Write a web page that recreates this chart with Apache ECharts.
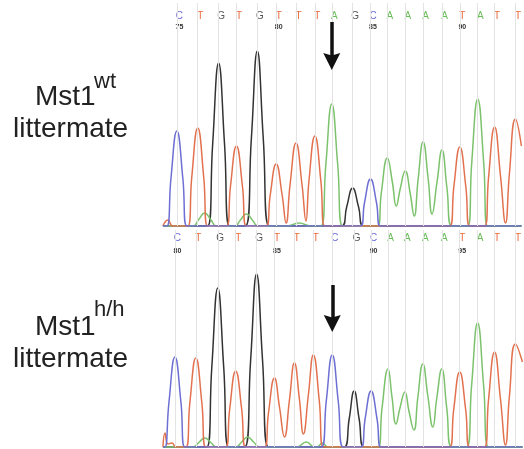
<!DOCTYPE html>
<html><head><meta charset="utf-8">
<script src="https://cdn.jsdelivr.net/npm/echarts@6/dist/echarts.min.js"></script>
<style>html,body{margin:0;padding:0;background:#fff}#c{width:524px;height:449px}</style>
</head><body><div id="c"></div>
<script>
// ---------- data (x = scan position, y = signal intensity) ----------
const topBases   = ['C','T','G','T','G','T','T','T','A','G','C','A','A','A','A','T','A','T','T'];
const topBasePos = [14,35,56,74,95,114,134,153,170,191,209,226,244,262,281,299,317,334,355];
const topNumIdx  = [0,5,10,15];
const topNumbers = ['75','80','85','90'];

const botBases   = ['C','T','G','T','G','T','T','T','C','G','C','A','A','A','A','T','A','T','T'];
const botBasePos = [12,33,55,73,94,112,132,151,170,192,209,226,243,261,280,298,316,333,354];
const botNumIdx  = [0,5,10,15];
const botNumbers = ['80','85','90','95'];

const mutationIdx = 8;

// trace channels, top (wild type)
const topC = [[0,0],[4,0],[8,475],[14,950],[20,475],[24,0],[199,0],[203,235],[209,470],[215,235],[219,0],[361,0]];
const topT = [[0,0],[5,60],[10,0],[25,0],[29,490],[35,980],[41,490],[45,0],[64,0],[68,400],[74,800],[80,400],[84,0],[104,0],[108,310],[114,620],[120,310],[124,30],[128,415],[134,830],[140,415],[144,50],[147,450],[153,900],[159,450],[163,0],[289,0],[293,395],[299,790],[305,395],[309,0],[324,0],[328,495],[334,990],[340,495],[345,30],[349,535],[355,1070],[361,800]];
const topG = [[0,0],[45,0],[50,815],[56,1630],[62,815],[67,0],[83,0],[89,875],[95,1750],[101,875],[107,0],[180,0],[185,190],[191,380],[197,190],[202,0],[361,0]];
const topA = [[0,0],[30,0],[36,65],[42,130],[48,65],[54,0],[72,0],[78,60],[84,120],[90,60],[96,0],[125,0],[137,30],[149,0],[159,0],[164,610],[170,1220],[176,610],[181,0],[216,0],[220,340],[226,680],[231,440],[235,200],[239,375],[244,550],[249,325],[253,100],[257,470],[262,840],[267,480],[271,120],[276,440],[281,760],[286,380],[291,0],[307,0],[311,635],[317,1270],[323,635],[327,0],[361,0]];

// trace channels, bottom (h/h)
const botC = [[0,0],[2,0],[6,450],[12,900],[18,450],[22,0],[159,0],[164,460],[170,920],[176,460],[181,0],[199,0],[203,280],[209,560],[215,280],[219,0],[361,0]];
const botT = [[0,0],[2,140],[5,30],[9,40],[13,0],[23,0],[27,445],[33,890],[39,445],[43,0],[63,0],[67,380],[73,760],[79,380],[83,0],[102,0],[106,345],[112,690],[117,400],[122,100],[127,470],[132,840],[137,480],[141,130],[146,520],[151,920],[157,460],[161,0],[288,0],[292,375],[298,750],[304,375],[308,0],[323,0],[327,475],[333,950],[339,475],[344,20],[348,515],[354,1030],[361,850]];
const botG = [[0,0],[44,0],[49,795],[55,1590],[61,795],[66,0],[82,0],[88,865],[94,1730],[100,865],[106,0],[182,0],[187,280],[192,560],[197,280],[202,0],[361,0]];
const botA = [[0,0],[30,0],[36,45],[42,90],[48,45],[54,0],[73,0],[79,50],[85,100],[91,50],[97,0],[134,0],[144,50],[152,0],[155,0],[160,40],[166,0],[216,0],[220,390],[226,780],[230,500],[234,230],[238,390],[243,550],[247,360],[252,170],[256,500],[261,830],[266,510],[271,200],[275,490],[280,780],[285,390],[290,0],[305,0],[310,620],[316,1240],[322,620],[327,0],[361,0]];

// ---------- styling ----------
const FONT = "'Liberation Sans', Arial, Helvetica, sans-serif";
const traceColor  = {A:'#7cc26c', C:'#6e6fd3', G:'#333333', T:'#e2724f'};
const letterColor = {A:'#69bd58', C:'#6b6bd6', G:'#555555', T:'#e86a3e'};
const XMAX = 361;
const richLetters = {};
Object.keys(letterColor).forEach(k => {
  richLetters[k] = {color: letterColor[k], fontSize: 10, fontFamily: FONT, padding: [0,0,0,5]};
});

function panelAxes(gi, pos, bases, numIdx, nums, letterMargin, numMargin) {
  const numPos = numIdx.map(i => pos[i]);
  return [
    {gridIndex: gi, type: 'value', min: 0, max: XMAX, position: 'bottom',
     axisLine: {show: true, onZero: false, lineStyle: {color: '#c5cedc', width: 1.5}},
     axisTick: {show: false}, axisLabel: {show: false}, splitLine: {show: false}},
    {gridIndex: gi, type: 'value', min: 0, max: XMAX, position: 'top',
     axisLine: {show: false}, axisTick: {show: false}, splitLine: {show: false},
     axisLabel: {show: true, inside: true, margin: letterMargin, customValues: pos,
       formatter: v => { const i = pos.indexOf(v); return i < 0 ? '' : '{' + bases[i] + '|' + bases[i] + '}'; },
       rich: richLetters}},
    {gridIndex: gi, type: 'value', min: 0, max: XMAX, position: 'top',
     axisLine: {show: false}, axisTick: {show: false}, splitLine: {show: false},
     axisLabel: {show: true, inside: true, margin: numMargin, customValues: numPos,
       formatter: v => { const i = numPos.indexOf(v); return i < 0 ? '' : '{n|' + nums[i] + '}'; },
       rich: {n: {color: '#333', fontSize: 7, fontWeight: 'bold', fontFamily: FONT, padding: [0,0,0,5]}}}}
  ];
}

function traceSeries(gi, data, base) {
  return {type: 'line', xAxisIndex: gi * 3, yAxisIndex: gi, data: data,
    smooth: 0.5, symbol: 'none', showSymbol: false, silent: true, z: 3,
    lineStyle: {color: traceColor[base], width: 1.5}};
}

function gridSeries(gi, pos) {
  return {type: 'line', xAxisIndex: gi * 3, yAxisIndex: gi, data: [[0,0]], symbol: 'none',
    lineStyle: {opacity: 0}, silent: true, z: 1,
    markLine: {silent: true, symbol: ['none','none'], label: {show: false},
      lineStyle: {color: '#e3e3e3', width: 1, type: 'solid'}, animation: false,
      data: pos.map(p => ({xAxis: p}))}};
}

const arrowPath = 'path://M5,0L10,10L5,8.6L0,10Z';
function arrowSeries(gi, x, y0, y1) {
  return {type: 'line', xAxisIndex: gi * 3, yAxisIndex: gi, data: [[0,0]], symbol: 'none',
    lineStyle: {opacity: 0}, silent: true, z: 6,
    markLine: {silent: true, symbol: ['none', arrowPath], symbolSize: 17, label: {show: false},
      lineStyle: {color: '#111', width: 3.5, type: 'solid'}, animation: false,
      data: [[{coord: [x, y0]}, {coord: [x, y1]}]]}};
}

const chart = echarts.init(document.getElementById('c'), null, {renderer: 'canvas'});
chart.setOption({
  animation: false,
  backgroundColor: '#ffffff',
  grid: [
    {left: 163, right: 0, top: 3, bottom: 223},
    {left: 163, right: 0, top: 230, bottom: 2}
  ],
  xAxis: [].concat(
    panelAxes(0, topBasePos, topBases, topNumIdx, topNumbers, 8, 21),
    panelAxes(1, botBasePos, botBases, botNumIdx, botNumbers, 3, 18)
  ),
  yAxis: [
    {gridIndex: 0, type: 'value', min: 0, max: 2230, show: false},
    {gridIndex: 1, type: 'value', min: 0, max: 2170, show: false}
  ],
  series: [
    gridSeries(0, topBasePos),
    gridSeries(1, botBasePos),
    traceSeries(0, topG, 'G'), traceSeries(0, topA, 'A'), traceSeries(0, topT, 'T'), traceSeries(0, topC, 'C'),
    traceSeries(1, botG, 'G'), traceSeries(1, botA, 'A'), traceSeries(1, botT, 'T'), traceSeries(1, botC, 'C'),
    arrowSeries(0, topBasePos[mutationIdx], 2040, 1645),
    arrowSeries(1, botBasePos[mutationIdx], 1620, 1235)
  ],
  graphic: [
    {type: 'text', x: 35, y: 97, style: {text: 'Mst1', font: '28px ' + FONT, fill: '#222', align: 'left', verticalAlign: 'middle'}},
    {type: 'text', x: 94, y: 82, style: {text: 'wt', font: '22px ' + FONT, fill: '#222', align: 'left', verticalAlign: 'middle'}},
    {type: 'text', x: 13, y: 129, style: {text: 'littermate', font: '28px ' + FONT, fill: '#222', align: 'left', verticalAlign: 'middle'}},
    {type: 'text', x: 35, y: 327, style: {text: 'Mst1', font: '28px ' + FONT, fill: '#222', align: 'left', verticalAlign: 'middle'}},
    {type: 'text', x: 94, y: 310, style: {text: 'h/h', font: '22px ' + FONT, fill: '#222', align: 'left', verticalAlign: 'middle'}},
    {type: 'text', x: 13, y: 359, style: {text: 'littermate', font: '28px ' + FONT, fill: '#222', align: 'left', verticalAlign: 'middle'}}
  ]
});
</script>
</body></html>
